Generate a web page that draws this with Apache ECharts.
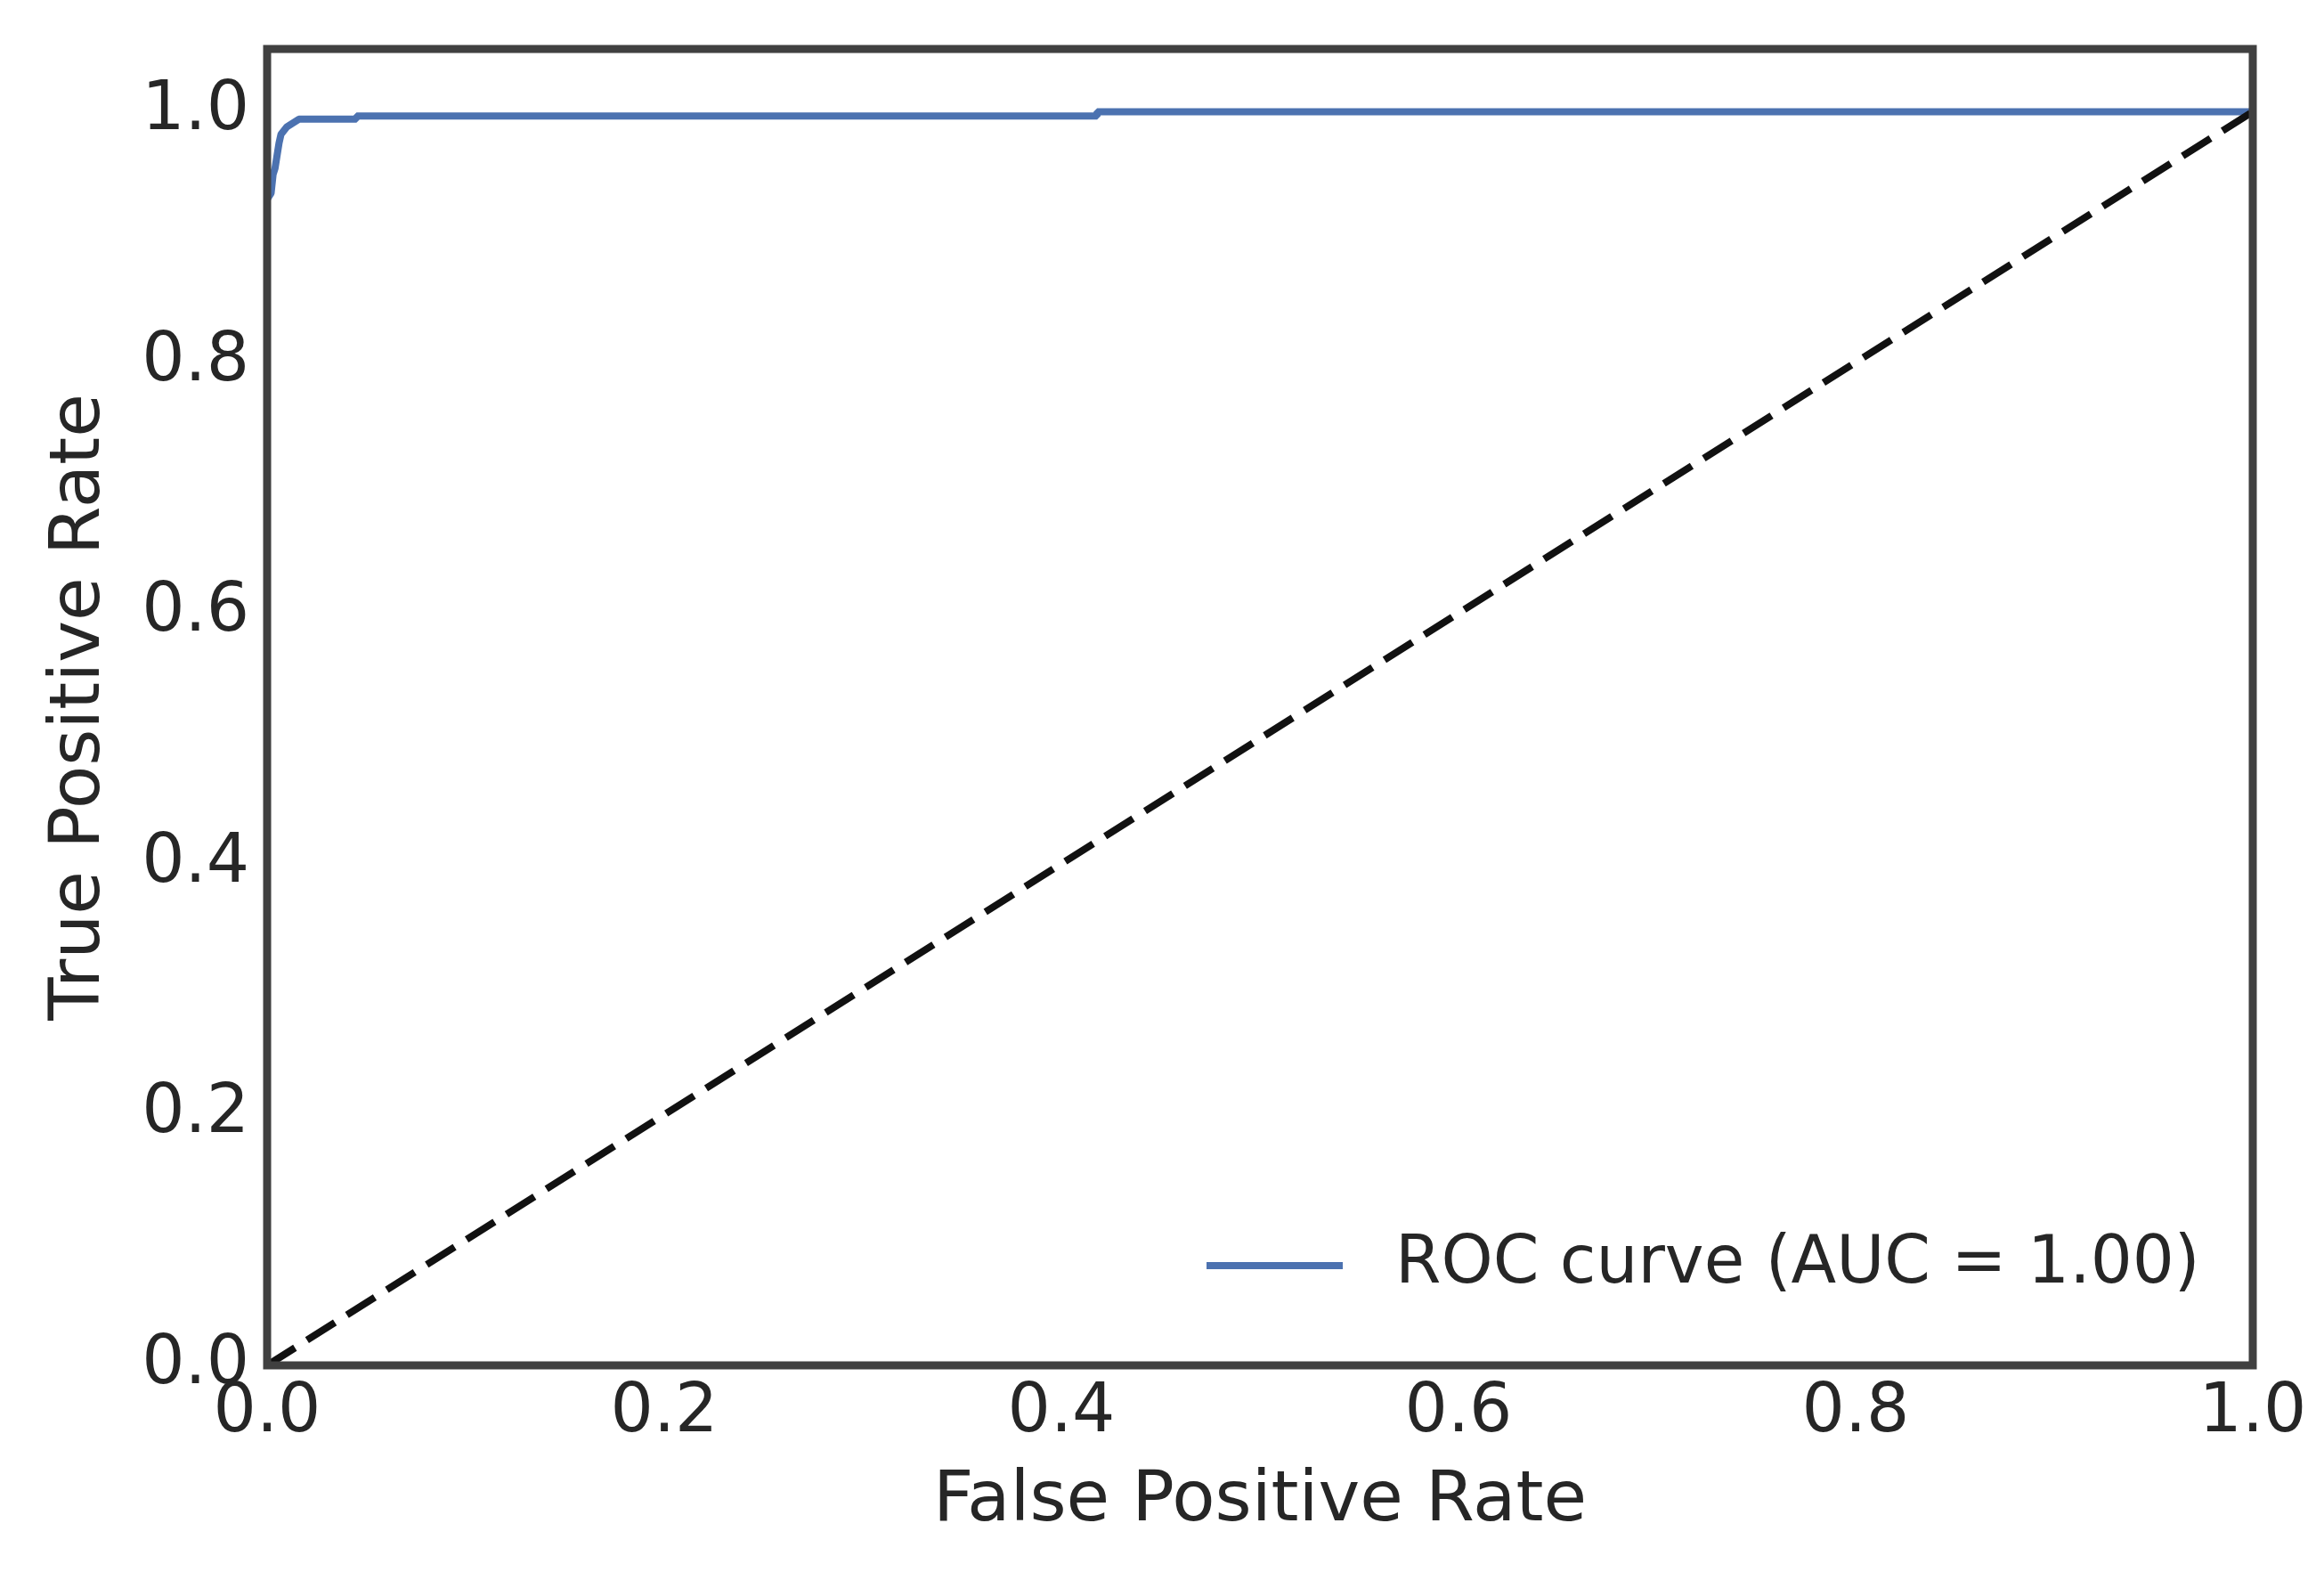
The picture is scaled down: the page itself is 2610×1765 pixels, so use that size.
<!DOCTYPE html>
<html>
<head>
<meta charset="utf-8">
<script src="https://cdn.jsdelivr.net/npm/echarts@6/dist/echarts.min.js"></script>
<style>
html,body{margin:0;padding:0;background:#fff;}
#chart{width:2610px;height:1765px;}
</style>
</head>
<body>
<div id="chart"></div>
<script>
// ROC curve points (false positive rate, true positive rate)
const rocFpr = [0, 0, 0.002, 0.003, 0.004, 0.006, 0.007, 0.010, 0.016, 0.045, 0.045, 0.418, 0.418, 1.0];
const rocTpr = [0, 0.93, 0.935, 0.950, 0.955, 0.975, 0.982, 0.988, 0.994, 0.994, 0.9965, 0.9965, 1.0, 1.0];
// chance diagonal
const diagX = [0, 1];
const diagY = [0, 1];
const tickValues = [0, 0.2, 0.4, 0.6, 0.8, 1.0];
const seriesName = 'ROC curve (AUC = 1.00)';
const xTitle = 'False Positive Rate';
const yTitle = 'True Positive Rate';

const FONT = 'DejaVu Sans';
const TEXT = '#262626';
const EDGE = '#404040';

const rocData = rocFpr.map((x, i) => [x, rocTpr[i]]);
const diagData = diagX.map((x, i) => [x, diagY[i]]);

function fmt(v) {
  for (const t of tickValues) {
    if (Math.abs(v - t) < 1e-9) return t.toFixed(1);
  }
  return '';
}

const chart = echarts.init(document.getElementById('chart'), null, {renderer: 'canvas'});
chart.setOption({
  backgroundColor: '#ffffff',
  animation: false,
  grid: {
    left: 300, right: 80, top: 55, bottom: 232,
    show: true, borderWidth: 9, borderColor: EDGE,
    backgroundColor: 'transparent', z: 10
  },
  legend: {
    data: [seriesName],
    left: 1355, top: 1384, padding: 0,
    icon: 'rect', itemWidth: 153, itemHeight: 8,
    textStyle: {fontFamily: FONT, fontSize: 74, color: TEXT, padding: [12, 0, 0, 54]}
  },
  xAxis: {
    type: 'value', min: 0, max: 1, interval: 0.2,
    name: xTitle, nameLocation: 'middle', nameGap: 114,
    nameTextStyle: {fontFamily: FONT, fontSize: 79, color: TEXT},
    axisLine: {show: false}, axisTick: {show: false}, splitLine: {show: false},
    axisLabel: {fontFamily: FONT, fontSize: 76, color: TEXT, margin: 16, formatter: fmt}
  },
  yAxis: {
    type: 'value', min: 0, max: 1.05, interval: 0.2,
    name: yTitle, nameLocation: 'middle', nameGap: 170, nameRotate: 90,
    nameTextStyle: {fontFamily: FONT, fontSize: 79, color: TEXT},
    axisLine: {show: false}, axisTick: {show: false}, splitLine: {show: false},
    axisLabel: {fontFamily: FONT, fontSize: 76, color: TEXT, margin: 20, formatter: fmt, showMaxLabel: false}
  },
  series: [
    {
      name: seriesName, type: 'line', data: rocData,
      showSymbol: false, symbol: 'none',
      lineStyle: {color: '#4c72b0', width: 8},
      itemStyle: {color: '#4c72b0'},
      z: 2
    },
    {
      name: 'chance', type: 'line', data: diagData,
      showSymbol: false, symbol: 'none',
      lineStyle: {color: '#111111', width: 8, type: [37, 16]},
      z: 3
    }
  ]
});
</script>
</body>
</html>
